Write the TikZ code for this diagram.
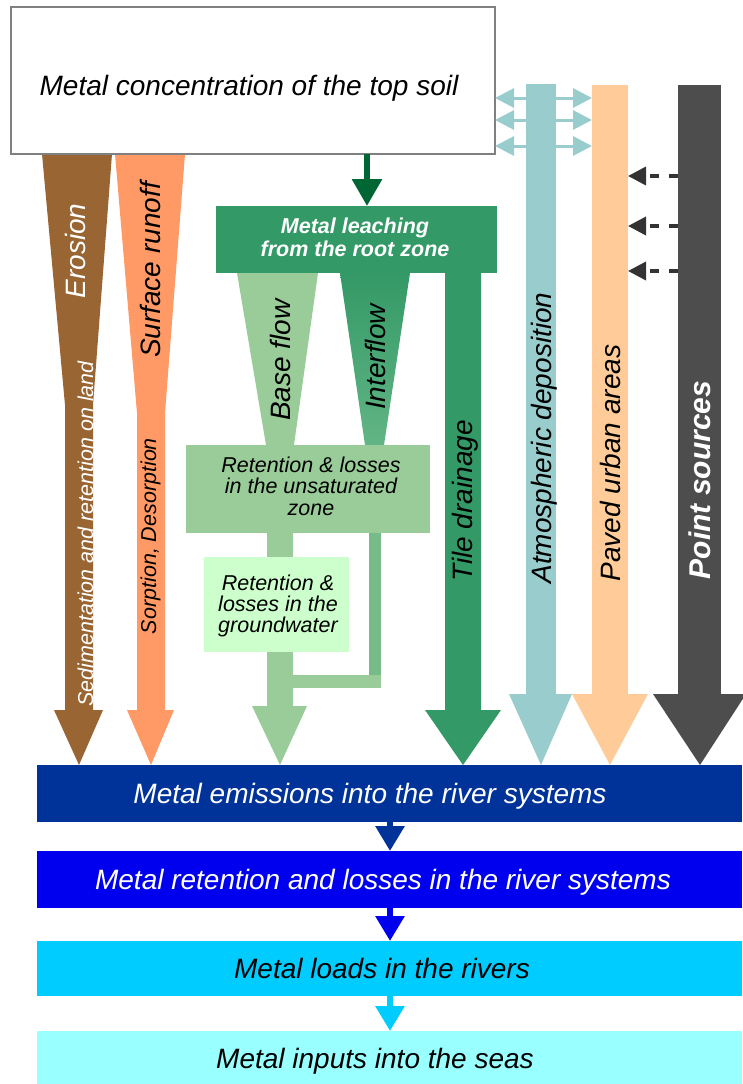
\documentclass[tikz,border=0pt]{standalone}
\usepackage{fontspec}
\setmainfont{Liberation Sans}
\usetikzlibrary{arrows.meta}
\definecolor{cerosion}{HTML}{996633}
\definecolor{crunoff}{HTML}{FF9966}
\definecolor{cdarkgreen}{HTML}{006633}
\definecolor{cleach}{HTML}{339966}
\definecolor{clightgreen}{HTML}{99CC99}
\definecolor{cinterlow}{HTML}{62B585}
\definecolor{cinterbar}{HTML}{77BB88}
\definecolor{cgw}{HTML}{CCFFCC}
\definecolor{catmo}{HTML}{99CCCC}
\definecolor{cpaved}{HTML}{FFCC99}
\definecolor{cpoint}{HTML}{4D4D4D}
\definecolor{cdash}{HTML}{333333}
\definecolor{cemis}{HTML}{003399}
\definecolor{cret}{HTML}{0000EE}
\definecolor{cload}{HTML}{00CCFF}
\definecolor{cinput}{HTML}{99FFFF}
\newcommand\fbig{\fontsize{28}{30}\selectfont\itshape}
\newcommand\fmid{\fontsize{21.5}{21.5}\selectfont\itshape}
\begin{document}
\begin{tikzpicture}[x=1pt,y=-1pt,
  box/.style={rectangle,inner sep=0pt,outer sep=0pt,anchor=north west},
  lbl/.style={inner sep=0pt,anchor=base},
  vlbl/.style={inner sep=0pt,anchor=base,rotate=90},
  riverarrow/.style={line width=6pt,-{Triangle[width=28pt,length=25pt]}},
  dblarrow/.style={catmo,line width=3pt,{Triangle[width=19pt,length=19pt]}-{Triangle[width=19pt,length=19pt]}},
  dasharrow/.style={cdash,line width=3.5pt,dash pattern=on 9pt off 10pt,-{Triangle[width=18pt,length=18pt]}}]
\useasboundingbox (0,0) rectangle (742,1084);

% left tapered arrows
\fill[cerosion] (42,154) -- (112,154) -- (93,405) -- (93,710) -- (103,710) -- (79,765) -- (54,710) -- (65,710) -- (65,405) -- cycle;
\fill[crunoff] (115,154) -- (185,154) -- (165,413) -- (165,710) -- (174,710) -- (151,765) -- (127,710) -- (137,710) -- (137,413) -- cycle;
\node[vlbl,white] (erosion) at (85,251) {\fbig Erosion};
\node[vlbl,white] (sedim) at (93,534) {\fmid Sedimentation and retention on land};
\node[vlbl] (runoff) at (160,270) {\fbig Surface runoff};
\node[vlbl] (sorption) at (156,536) {\fmid Sorption, Desorption};

% top box
\node[box,draw=gray,line width=1.5pt,fill=white,minimum width=484pt,minimum height=147pt] (top) at (11,7) {};
\node[lbl] (toptext) at (249,95) {\fbig Metal concentration of the top soil};

% leaching
\node[box,fill=cleach,minimum width=281pt,minimum height=67pt] (leach) at (216,206) {};
\coordinate (lx) at (367,0);
\draw[cdarkgreen,line width=6pt,-{Triangle[width=29pt,length=27pt]}] (top.south -| lx) -- (leach.north -| lx);
\node[lbl,white,align=center,font=\fontsize{21.5}{23}\selectfont\bfseries\itshape] (leachtext) at (355,256) {Metal leaching\\ from the root zone};

% base flow and interflow funnels
\fill[clightgreen] (237,273) -- (318,273) -- (294,445) -- (266,445) -- cycle;
\shade[top color=cleach,bottom color=cinterlow] (340,273) -- (410,273) -- (384,445) -- (365,445) -- cycle;
\node[vlbl] (baseflow) at (290,360) {\fbig Base flow};
\node[vlbl] (interflow) at (385,357) {\fbig Interflow};

% tile drainage
\fill[cleach] (445,273) -- (481,273) -- (481,710) -- (501,710) -- (463,765) -- (425,710) -- (445,710) -- cycle;
\node[vlbl] (tile) at (472,501) {\fbig Tile drainage};

% base flow shaft and interflow return
\fill[clightgreen] (267,533) -- (293,533) -- (293,706) -- (307,706) -- (280,765) -- (252,706) -- (267,706) -- cycle;
\fill[cinterbar] (369,533) rectangle (381,688);
\fill[clightgreen] (293,675) rectangle (381,688);

% unsaturated zone box
\node[box,fill=clightgreen,minimum width=244pt,minimum height=88pt] (unsat) at (186,445) {};
\node[lbl,align=center,font=\fontsize{21.5}{21.5}\selectfont\itshape] (unsattext) at (311,515) {Retention \& losses\\ in the unsaturated\\ zone};

% groundwater box
\node[box,fill=cgw,minimum width=145pt,minimum height=95pt] (gw) at (204,557) {};
\node[lbl,align=center,font=\fontsize{21.5}{21}\selectfont\itshape] (gwtext) at (278,632) {Retention \&\\ losses in the\\ groundwater};

% right side vertical arrows
\node[box,fill=catmo,minimum width=30pt,minimum height=610pt] (atmo) at (526,84) {};
\fill[catmo] (509,694) -- (572,694) -- (541,765) -- cycle;
\node[box,fill=cpaved,minimum width=36pt,minimum height=609pt] (paved) at (592,85) {};
\fill[cpaved] (572,694) -- (648,694) -- (610,765) -- cycle;
\node[box,fill=cpoint,minimum width=43pt,minimum height=609pt] (point) at (678,85) {};
\fill[cpoint] (653,694) -- (746,694) -- (700,765) -- cycle;
\node[vlbl] (atmotext) at (551,438) {\fbig Atmospheric deposition};
\node[vlbl] (pavedtext) at (620,463) {\fbig Paved urban areas};
\node[vlbl,white] (pointtext) at (710,480) {\fontsize{30}{30}\selectfont\bfseries\itshape Point sources};

% exchange arrows
\foreach \yy in {98,120,146}
  \draw[dblarrow] (top.east |- 0,\yy) -- (paved.west |- 0,\yy);
\foreach \yy in {176,226,271}
  \draw[dasharrow] (point.west |- 0,\yy) -- (paved.east |- 0,\yy);

% bottom boxes
\node[box,fill=cemis,minimum width=705pt,minimum height=57pt] (emis) at (37,765) {};
\node[box,fill=cret,minimum width=705pt,minimum height=57pt] (ret) at (37,851) {};
\node[box,fill=cload,minimum width=705pt,minimum height=55pt] (load) at (37,941) {};
\node[box,fill=cinput,minimum width=705pt,minimum height=53pt] (input) at (37,1031) {};
\node[lbl,white] (emistext) at (370,803) {\fbig Metal emissions into the river systems};
\node[lbl,white] (rettext) at (383,889) {\fbig Metal retention and losses in the river systems};
\node[lbl] (loadtext) at (382,978) {\fbig Metal loads in the rivers};
\node[lbl] (inputtext) at (375,1068) {\fbig Metal inputs into the seas};
\coordinate (rx) at (390,0);
\draw[riverarrow,cemis] (emis.south -| rx) -- (ret.north -| rx);
\draw[riverarrow,cret] (ret.south -| rx) -- (load.north -| rx);
\draw[riverarrow,cload] (load.south -| rx) -- (input.north -| rx);
\end{tikzpicture}
\end{document}
